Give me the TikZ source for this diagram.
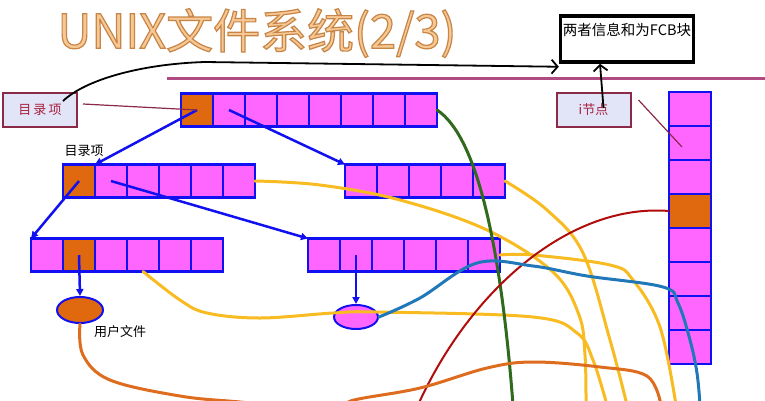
\documentclass[tikz,border=0pt]{standalone}
\usepackage{fontspec}
\setmainfont{Noto Sans CJK SC}
\usetikzlibrary{arrows.meta, shapes.geometric}
\definecolor{cellblue}{HTML}{1010F0}
\definecolor{cellpink}{HTML}{FF66FF}
\definecolor{cellorange}{HTML}{E0680E}
\definecolor{tagred}{HTML}{8A2A48}
\definecolor{tagtext}{HTML}{A8203C}
\definecolor{taglav}{HTML}{E2E4F8}
\definecolor{railmag}{HTML}{B04A82}
\definecolor{titlefill}{HTML}{F6C894}
\definecolor{wireyellow}{HTML}{F8BC22}
\definecolor{wiregreen}{HTML}{306A1C}
\definecolor{wirered}{HTML}{B00C0C}
\definecolor{wireblue}{HTML}{2078B8}
\definecolor{wireorange}{HTML}{DE6C1E}
\newcommand{\outlinetitle}[1]{\special{pdf:literal direct 0.78 0.52 0.28 RG 2 Tr 1.2 w}#1\special{pdf:literal direct 0 Tr}}

\begin{document}
\begin{tikzpicture}[x=1pt, y=-1pt,
  every node/.style={font=\fontsize{13}{15}\selectfont},
  cell/.style={rectangle, draw=cellblue, fill=cellpink, line width=2.5pt, minimum width=32, minimum height=33, inner sep=0pt, outer sep=0pt},
  hotcell/.style={cell, fill=cellorange},
  vcell/.style={cell, minimum width=42, minimum height=34},
  tag/.style={rectangle, draw=tagred, fill=taglav, line width=2pt, minimum width=74, minimum height=34, text=tagtext},
  filenode/.style={ellipse, draw=cellblue, line width=2pt, inner sep=0pt},
  link/.style={cellblue, line width=2.5pt, -{Triangle[length=7pt, width=7pt]}},
  pointer/.style={tagred, line width=1.2pt},
  pen/.style={black, line width=1.8pt, -{Straight Barb[length=6pt, width=14pt]}},
  wire/.style={line width=3pt, line cap=round},
]
\useasboundingbox (0,0) rectangle (765,400);

% FCB box
\node[draw, line width=3.5pt, minimum width=133, minimum height=46] (fcb) at (627,39) {};
\node[font=\fontsize{14.5}{16}\selectfont] (fcbtext) at (627,30) {两者信息和为FCB块};
\draw[railmag, line width=3pt] (167,78) -- (765,78);

% Tags
\node[tag] (dirtag) at (40,110) {目\,录\,项};
\node[tag] (inotag) at (593.5,110) {i节点};

% Directory blocks
\node[hotcell] (t1) at (197,110) {};
\foreach \i in {2,...,8} \node[cell] (t\i) at ({165+32*\i},110) {};
\node[hotcell] (a1) at (79,181) {};
\foreach \i in {2,...,6} \node[cell] (a\i) at ({47+32*\i},181) {};
\foreach \i in {1,...,5} \node[cell] (b\i) at ({329+32*\i},181) {};
\node[cell] (c1) at (47,255) {};
\node[hotcell] (c2) at (79,255) {};
\foreach \i in {3,...,6} \node[cell] (c\i) at ({15+32*\i},255) {};
\foreach \i in {1,...,6} \node[cell] (d\i) at ({292+32*\i},255) {};
\node (dirlabel) at (84,151) {目录项};

% i-node column
\foreach \i in {1,2,3,5,6,7,8} \node[vcell] (v\i) at (690,{75+34*\i}) {};
\node[vcell, fill=cellorange] (v4) at (690,211) {};

% Files
\node[filenode, fill=cellorange, minimum width=46, minimum height=26] (f1) at (80,310) {};
\node[filenode, fill=cellpink, minimum width=44, minimum height=24] (f2) at (356,317) {};
\node (userfile) at (120,332) {用户文件};

% Links
\draw[link] (t1.center) -- (a1.north east);
\draw[link] (t2.center) -- (b1.north west);
\draw[link] (a1.center) -- (c1.north west);
\draw[link] (a2.center) -- (d1.north west);
\draw[link] (c2.center) -- (f1.north);
\draw[link] (d2.center) -- (f2.north);
\draw[pointer] ([shift={(5,12)}]dirtag.north east) -- (t1.center);
\draw[pointer] ([shift={(7,8)}]inotag.north east) -- ([shift={(-8,4)}]v2.center);
\draw[pen] ([shift={(-15,9)}]dirtag.north east) .. controls (85,80) and (140,64) .. (205,62) -- ([yshift=-3]fcb.south west);
\draw[pen] ([shift={(10,-2)}]inotag.center) -- ([xshift=-27]fcb.south);

% Curves
\coordinate (g0) at (513,405);
\coordinate (y10) at (586,405);
\coordinate (y20) at (627,405);
\coordinate (y30) at (676,405);
\coordinate (y40) at (607,405);
\coordinate (r0) at (418,405);
\coordinate (bl0) at (700,405);
\coordinate (o0) at (661,405);
\draw[wire, wireyellow] plot[smooth, tension=0.6] coordinates {(a6.east) (320,185) (400,200) (487,230) (553,272) (579,315) (585,355) (y10)};
\draw[wire, wireyellow] plot[smooth, tension=0.6] coordinates {(b5.east) (547,210) (583,253) (610,340) (y20)};
\draw[wire, wireyellow] plot[smooth, tension=0.6] coordinates {(d6.east) (533,255) (610,265) (633,280) (660,327) (y30)};
\draw[wire, wireyellow] plot[smooth, tension=0.6] coordinates {(c4.south) (180,300) (207,313) (260,318) (333,313) (377,312) (533,317) (577,333) (593,360) (y40)};
\draw[wire, wiregreen] (t8.east) .. controls (475,135) and (500,235) .. (g0);
\draw[wirered, line width=2pt] (v4.west) .. controls (570,203) and (470,290) .. (r0);
\draw[wire, wireblue] plot[smooth, tension=0.6] coordinates {(f2.east) (420,298) (477,263) (533,266) (587,276) (663,287) (678,303) (690,340) (697,373) (bl0)};
\draw[wire, wireorange] plot[smooth, tension=0.6] coordinates {(f1.south) (83,355) (110,380) (180,396) (240,402) (330,410) (354,400) (420,388) (487,368) (533,362) (600,367) (647,376) (o0)};

% Title
\node[font=\fontsize{47}{50}\selectfont, text=titlefill] (title) at (257,33) {\outlinetitle{UNIX文件系统(2/3)}};
\end{tikzpicture}
\end{document}
